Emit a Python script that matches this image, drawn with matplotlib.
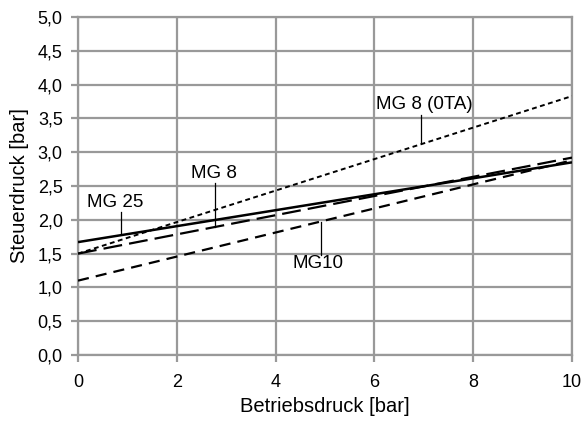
import numpy as np
import matplotlib
matplotlib.use("Agg")
import matplotlib.pyplot as plt
from matplotlib.ticker import FuncFormatter

plt.rcParams['font.family'] = ['Liberation Sans', 'DejaVu Sans']

# Betriebsdruck [bar] vs Steuerdruck [bar]
betriebsdruck = [0, 10]
mg25 = [1.67, 2.85]
mg8 = [1.50, 2.92]
mg8_0ta = [1.50, 3.83]
mg10 = [1.10, 2.88]

fig = plt.figure(figsize=(5.86, 4.21), dpi=100)
ax = fig.add_axes([78 / 586, 1 - 355 / 421, 494 / 586, 338 / 421])

grid_col = '#999999'
ax.plot(betriebsdruck, mg25, color='black', lw=1.8, solid_capstyle='butt', zorder=3)
ax.plot(betriebsdruck, mg8, color='black', lw=1.6, dashes=(8.5, 3.2), zorder=3)
ax.plot(betriebsdruck, mg8_0ta, color='black', lw=1.4, dashes=(2.5, 1.8), zorder=3)
ax.plot(betriebsdruck, mg10, color='black', lw=1.6, dashes=(5, 3.2), zorder=3)

# labels with leader lines
labels = [
    ("MG 25", 0.75, 2.25, 0.87, 2.12, 1.80),
    ("MG 8", 2.75, 2.69, 2.78, 2.54, 1.90),
    ("MG 8 (0TA)", 7.02, 3.71, 6.94, 3.55, 3.14),
    ("MG10", 4.86, 1.36, 4.92, 1.48, 1.97),
]
for txt, tx, ty, lx, y0, y1 in labels:
    ax.text(tx, ty, txt, ha='center', va='center', fontsize=13.5, zorder=4)
    ax.plot([lx, lx], [y0, y1], color='black', lw=0.9, zorder=4)

ax.set_xlim(0, 10)
ax.set_ylim(0, 5)
ax.set_xticks(np.arange(0, 11, 2))
ax.set_yticks(np.arange(0, 5.01, 0.5))
ax.yaxis.set_major_formatter(FuncFormatter(lambda v, p: f"{v:.1f}".replace('.', ',')))
ax.grid(True, color=grid_col, lw=1.6)
for s in ax.spines.values():
    s.set_color(grid_col)
    s.set_linewidth(1.6)
ax.tick_params(axis='both', colors=grid_col, length=5, width=1.6, labelcolor='black',
               labelsize=13)
ax.tick_params(axis='y', pad=6)
ax.tick_params(axis='x', pad=9)
ax.set_xlabel("Betriebsdruck [bar]", fontsize=14.5, labelpad=4)
ax.set_ylabel("Steuerdruck [bar]", fontsize=14.5, labelpad=6)

fig.savefig("out.png", dpi=100)
